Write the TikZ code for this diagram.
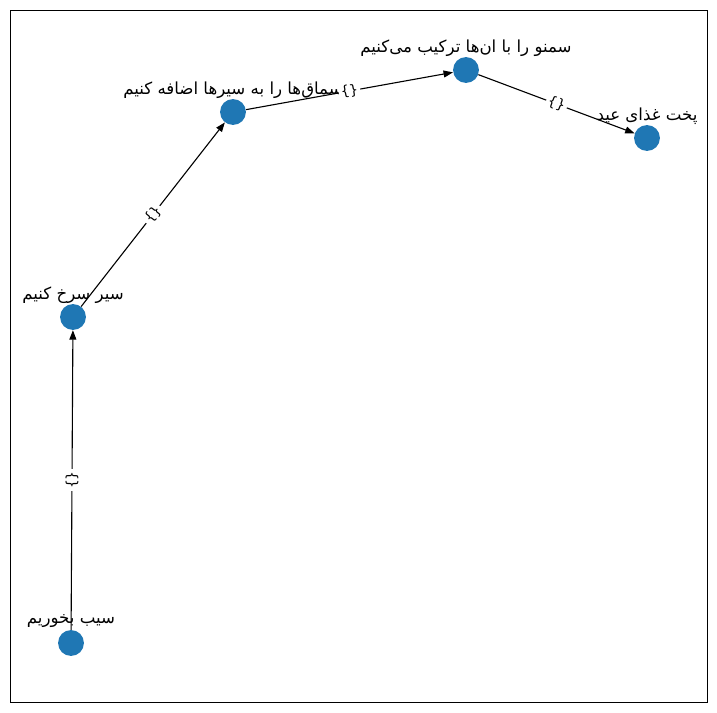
\documentclass[tikz,border=0pt]{standalone}
\usepackage{fontspec}
\setmainfont{DejaVu Sans}
\newfontfamily\arabicfont[Script=Arabic]{DejaVu Sans}
\TeXXeTstate=1
\usetikzlibrary{arrows.meta}
\definecolor{nodeblue}{HTML}{1F77B4}
\tikzset{
  step node/.style={circle,fill=nodeblue,inner sep=0pt,minimum size=18.7pt},
  step label/.style={font=\fontsize{12}{14}\selectfont\arabicfont,inner sep=0pt},
  step edge/.style={line width=0.8pt,-{Triangle[length=6.8pt,width=5pt]}},
  edge label/.style={font=\fontsize{10}{12}\selectfont,fill=white,inner sep=1.5pt,sloped,pos=0.5}
}
\begin{document}
\begin{tikzpicture}[x=0.01in,y=-0.01in]
\useasboundingbox (0,0) rectangle (717,713);
\draw[line width=0.8pt] (10.5,10.5) rectangle (707.5,702.5);

\path (71,621) node[step label](l1){\beginR سیب بخوریم\endR};
\path (73,295) node[step label](l2){\beginR سیر سرخ کنیم\endR};
\path (233,90) node[step label](l3){\beginR سماق‌ها را به سیرها اضافه کنیم\endR};
\path (466,48) node[step label](l4){\beginR سمنو را با ان‌ها ترکیب می‌کنیم\endR};
\path (647,116) node[step label](l5){\beginR پخت غذای عید\endR};

\node[step node] (eat) at (71,643) {};
\node[step node] (fry) at (73,317) {};
\node[step node] (sumac) at (233,112) {};
\node[step node] (samanu) at (466,70) {};
\node[step node] (cook) at (647,138) {};

\draw[step edge] (eat) -- node[edge label]{\{\}} (fry);
\draw[step edge] (fry) -- node[edge label]{\{\}} (sumac);
\draw[step edge] (sumac) -- node[edge label]{\{\}} (samanu);
\draw[step edge] (samanu) -- node[edge label]{\{\}} (cook);
\end{tikzpicture}
\end{document}
